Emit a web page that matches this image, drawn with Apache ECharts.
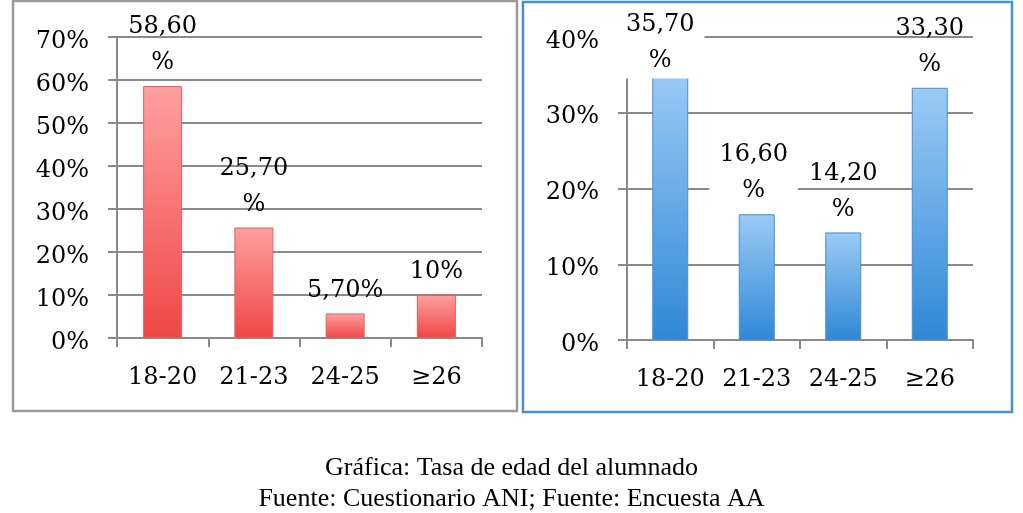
<!DOCTYPE html>
<html>
<head>
<meta charset="utf-8">
<script src="https://cdn.jsdelivr.net/npm/echarts@6/dist/echarts.min.js"></script>
<style>
  html, body { margin: 0; padding: 0; background: #fff; }
  #chart { width: 1023px; height: 513px; }
</style>
</head>
<body>
<div id="chart"></div>
<script>
const categories = ['18-20', '21-23', '24-25', '≥26']
const aniValues = [58.6, 25.7, 5.7, 10]   // Cuestionario ANI
const aaValues = [35.7, 16.6, 14.2, 33.3]  // Encuesta AA
const leftTicks = { min: 0, max: 70, interval: 10 }
const rightTicks = { min: 0, max: 40, interval: 10 }
const captionLines = ['Gráfica: Tasa de edad del alumnado', 'Fuente: Cuestionario ANI; Fuente: Encuesta AA']

const serif = 'DejaVu Serif'
const gray = '#8a8a8a'

// 58.6 -> "58,60\n%", 5.7 -> "5,70%", 10 -> "10%"
function pct (v) {
  if (Number.isInteger(v)) return v + '%'
  const s = v.toFixed(2).replace('.', ',')
  return v >= 10 ? s + '\n%' : s + '%'
}

function xAxisFor (idx) {
  return {
    type: 'category',
    gridIndex: idx,
    data: categories,
    axisLine: { lineStyle: { color: gray, width: 2 } },
    axisTick: { show: true, length: 9, lineStyle: { color: gray, width: 2 } },
    axisLabel: { color: '#000', fontFamily: serif, fontSize: 24, margin: 28, interval: 0 }
  }
}

function yAxisFor (idx, ticks) {
  return {
    type: 'value',
    gridIndex: idx,
    min: ticks.min,
    max: ticks.max,
    interval: ticks.interval,
    axisLine: { show: true, lineStyle: { color: gray, width: 2 } },
    axisTick: { show: true, length: 9, lineStyle: { color: gray, width: 2 } },
    splitLine: { lineStyle: { color: gray, width: 2 } },
    axisLabel: {
      margin: 28,
      formatter: '{t|{value}%}',
      rich: {
        t: { color: '#000', fontFamily: serif, fontSize: 24, padding: [9, 0, 0, 0] }
      }
    }
  }
}

function barColor (top, bottom) {
  return new echarts.graphic.LinearGradient(0, 0, 0, 1, [
    { offset: 0, color: top },
    { offset: 1, color: bottom }
  ])
}

const labelBase = {
  show: true,
  position: 'top',
  distance: 5,
  color: '#000',
  fontFamily: serif,
  fontSize: 24,
  lineHeight: 36,
  formatter: p => pct(p.value)
}

// right chart: first two labels sit on a white box, the first is held inside the plot
const aaData = aaValues.map((v, i) => {
  if (i === 0) return { value: v, label: { offset: [-10, 14], backgroundColor: '#fff', padding: [0, 10] } }
  if (i === 1) return { value: v, label: { offset: [-3, 0], backgroundColor: '#fff', padding: [0, 10] } }
  return v
})

const chart = echarts.init(document.getElementById('chart'))
chart.setOption({
  animation: false,
  backgroundColor: '#fff',
  title: captionLines.map((t, i) => ({
    text: t,
    left: 'center',
    top: 448 + i * 31,
    textStyle: { fontFamily: 'Liberation Serif', fontSize: 26, fontWeight: 'normal', color: '#000', lineHeight: 30 }
  })),
  graphic: [
    { type: 'rect', shape: { x: 13, y: 1, width: 504, height: 410 }, style: { fill: 'none', stroke: '#9a9a9a', lineWidth: 2.5 }, silent: true },
    { type: 'rect', shape: { x: 523, y: 2, width: 489, height: 410 }, style: { fill: 'none', stroke: '#4a8fd0', lineWidth: 2.5 }, silent: true }
  ],
  grid: [
    { left: 117, right: 541, top: 37, bottom: 175 },
    { left: 627, right: 50, top: 37, bottom: 173 }
  ],
  xAxis: [xAxisFor(0), xAxisFor(1)],
  yAxis: [yAxisFor(0, leftTicks), yAxisFor(1, rightTicks)],
  series: [
    {
      name: 'ANI',
      type: 'bar',
      xAxisIndex: 0,
      yAxisIndex: 0,
      barWidth: 39,
      itemStyle: { color: barColor('#ffa0a0', '#ef4646'), borderColor: '#e06060', borderWidth: 1 },
      label: labelBase,
      data: aniValues
    },
    {
      name: 'AA',
      type: 'bar',
      xAxisIndex: 1,
      yAxisIndex: 1,
      barWidth: 36,
      itemStyle: { color: barColor('#9ccbf5', '#2f88d6'), borderColor: '#4a8ccc', borderWidth: 1 },
      label: labelBase,
      data: aaData
    }
  ]
})
</script>
</body>
</html>
